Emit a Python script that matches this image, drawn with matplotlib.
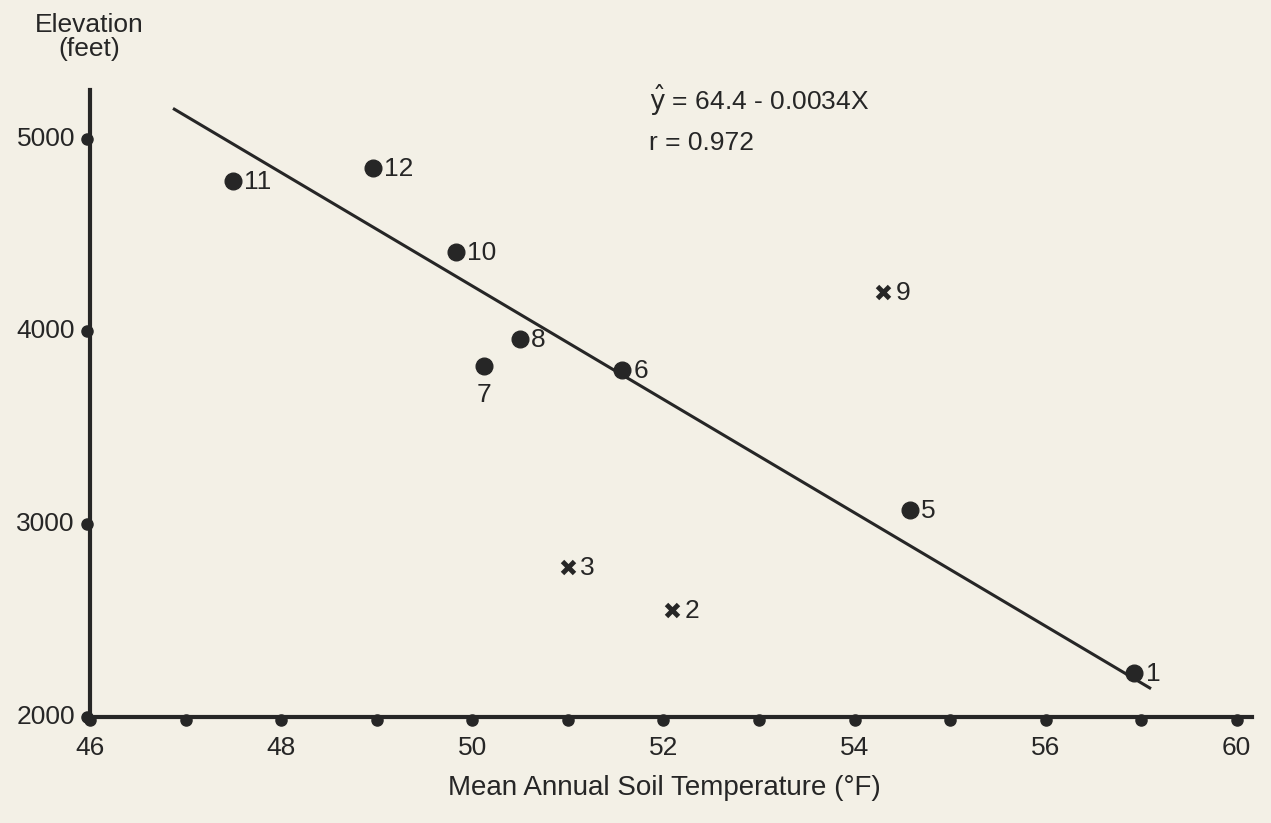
import numpy as np
import matplotlib.pyplot as plt
from matplotlib.transforms import ScaledTranslation

plt.rcParams['font.family'] = ['Liberation Sans', 'DejaVu Sans']

# points (site number, soil temp F, elevation ft)
dot_ids = ['1', '5', '6', '7', '8', '10', '11', '12']
dot_x = [56.93, 54.58, 51.57, 50.12, 50.50, 49.83, 47.49, 48.96]
dot_y = [2228, 3074, 3801, 3821, 3962, 4413, 4781, 4849]

cross_ids = ['2', '3', '9']
cross_x = [52.09, 51.00, 54.30]
cross_y = [2555, 2778, 4205]

# regression line ends
line_x = [46.88, 57.09]
line_y = [5153, 2150]

xticks = [46, 47, 48, 49, 50, 51, 52, 53, 54, 55, 56, 57, 58]
xlabels = {46: '46', 48: '48', 50: '50', 52: '52', 54: '54', 56: '56', 58: '60'}
yticks = [2000, 3000, 4000, 5000]

bg = '#f3f0e6'
ink = '#262626'
fs = 19

fig = plt.figure(figsize=(12.71, 8.23), dpi=100, facecolor=bg)
ax = fig.add_axes([0.071, 0.129, 0.914, 0.762])
ax.set_facecolor(bg)
ax.set_xlim(46, 58.16)
ax.set_ylim(2000, 5254)

for s in ['top', 'right']:
    ax.spines[s].set_visible(False)
for s in ['left', 'bottom']:
    ax.spines[s].set_linewidth(3)
    ax.spines[s].set_color(ink)
ax.set_xticks([])
ax.set_yticks([])

# dot ticks, hanging off the outside of the axes
down = ax.transData + ScaledTranslation(0, -2.5 / 72, fig.dpi_scale_trans)
left = ax.transData + ScaledTranslation(-2.5 / 72, 0, fig.dpi_scale_trans)
ax.plot(xticks, [2000] * len(xticks), 'o', color=ink, ms=8, clip_on=False, transform=down)
ax.plot([46] * len(yticks), yticks, 'o', color=ink, ms=8, clip_on=False, transform=left)
for t in xlabels:
    ax.annotate(xlabels[t], (t, 2000), xytext=(0, -14), textcoords='offset points',
                ha='center', va='top', fontsize=fs, color=ink)
for t in yticks:
    ax.annotate(str(t), (46, t), xytext=(-11, 0), textcoords='offset points',
                ha='right', va='center', fontsize=fs, color=ink)

ax.plot(line_x, line_y, color=ink, lw=2.2, clip_on=False)
ax.plot(dot_x, dot_y, 'o', color=ink, ms=12, clip_on=False)
ax.plot(cross_x, cross_y, 'x', color=ink, ms=9, mew=3.5, clip_on=False)

for lab, x, y in zip(dot_ids, dot_x, dot_y):
    if lab == '7':
        ax.annotate(lab, (x, y), xytext=(0, -12), textcoords='offset points',
                    ha='center', va='top', fontsize=fs, color=ink)
    else:
        ax.annotate(lab, (x, y), xytext=(8, -1), textcoords='offset points',
                    ha='left', va='center', fontsize=fs, color=ink)
for lab, x, y in zip(cross_ids, cross_x, cross_y):
    ax.annotate(lab, (x, y), xytext=(9, -1), textcoords='offset points',
                ha='left', va='center', fontsize=fs, color=ink)

fig.text(0.511, 0.878, r'$\hat{\mathrm{y}}$ = 64.4 - 0.0034X', fontsize=fs, color=ink,
         ha='left', va='center')
fig.text(0.511, 0.826, 'r = 0.972', fontsize=fs, color=ink, ha='left', va='center')

fig.text(0.07, 0.955, 'Elevation\n(feet)', fontsize=fs, color=ink, ha='center',
         va='center', linespacing=1.0)
fig.text(0.523, 0.043, 'Mean Annual Soil Temperature (°F)', fontsize=fs + 1, color=ink,
         ha='center', va='center')

fig.savefig('out.png', dpi=100, facecolor=bg)
